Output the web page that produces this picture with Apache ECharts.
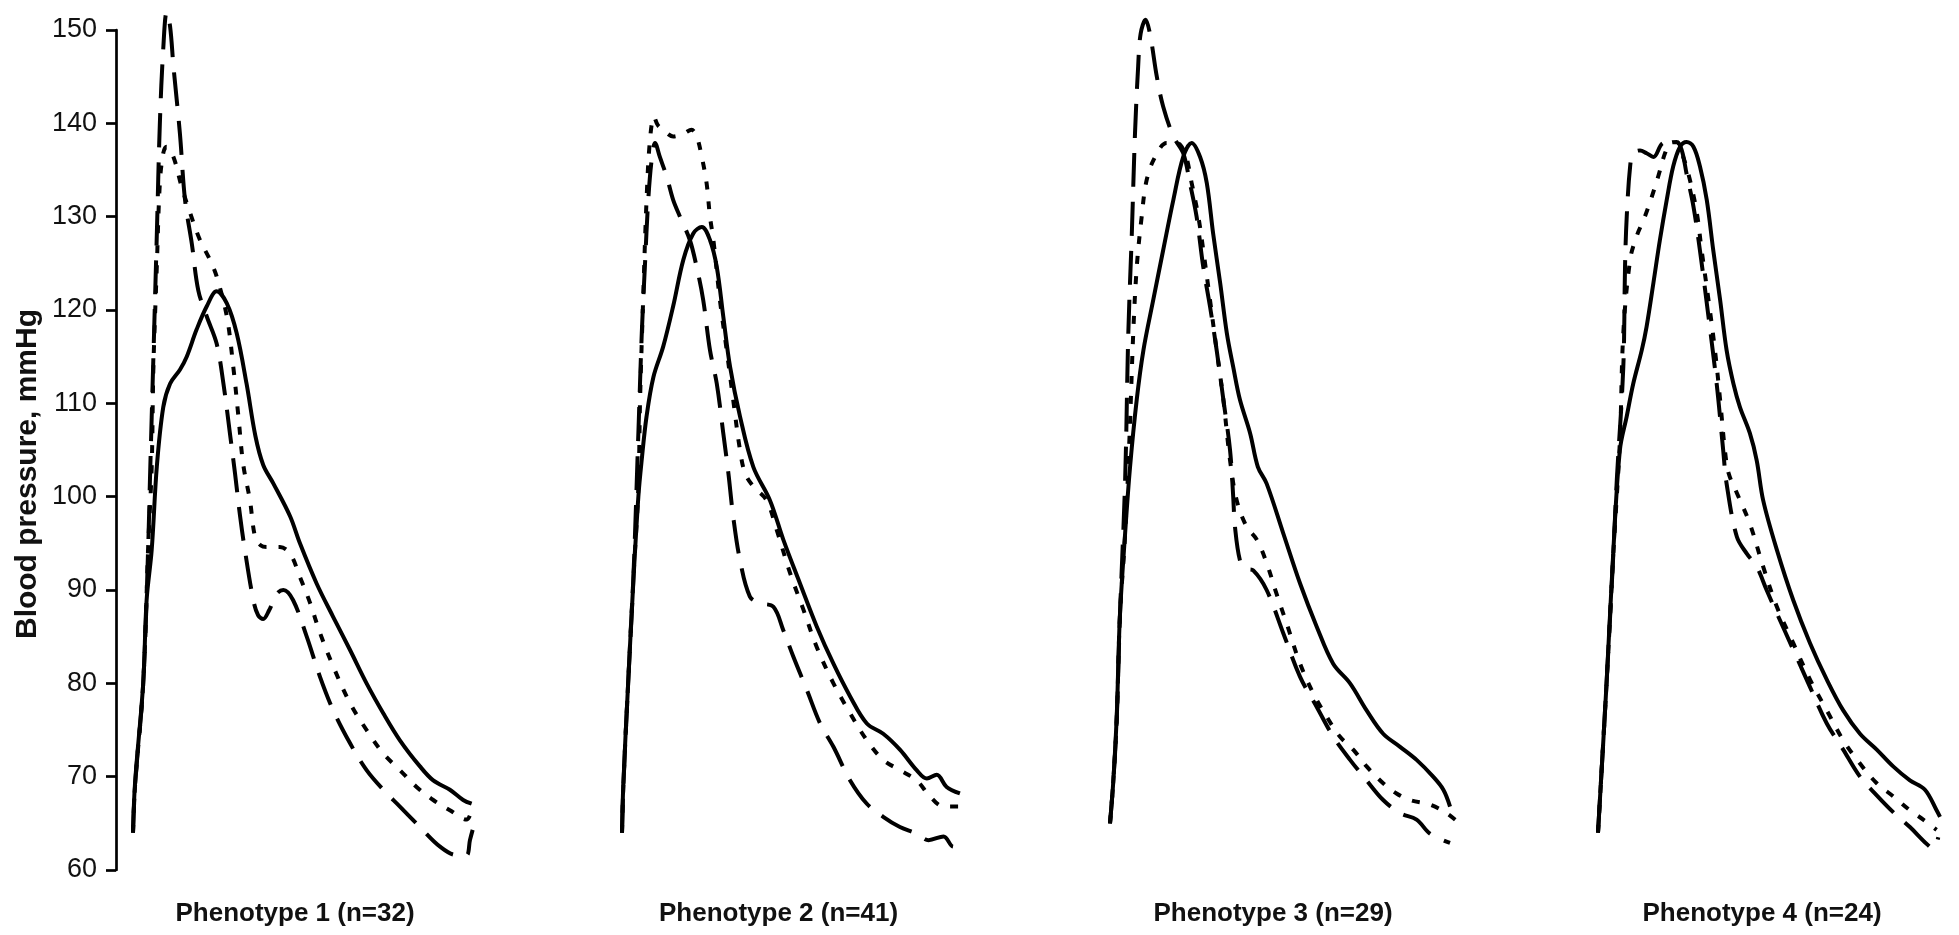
<!DOCTYPE html>
<html>
<head>
<meta charset="utf-8">
<title>Blood pressure waveforms by phenotype</title>
<script src="https://cdn.jsdelivr.net/npm/echarts@6/dist/echarts.min.js"></script>
<style>
  html, body { margin: 0; padding: 0; background: #ffffff; }
  #chart { width: 1959px; height: 935px; }
</style>
</head>
<body>
<div id="chart"></div>
<script>
// Ensemble-averaged pressure waveforms, time as % of the cardiac cycle.
// Each phenotype has three curves: solid, short-dashed and long-dashed.

const phenotypeNames = ['Phenotype 1 (n=32)', 'Phenotype 2 (n=41)', 'Phenotype 3 (n=29)', 'Phenotype 4 (n=24)'];
const yTicks = { min: 60, max: 150, step: 10 };

// Phenotype 1
const p1Solid = [[0,64],[0.6,69.3],[3,80],[4,88.9],[5.5,94.3],[7,103.2],[8.9,109.6],[10.9,112.1],[13.8,113.6],[15.8,115],[18.7,117.9],[21.7,120.4],[24.6,122],[27.6,120.7],[30.5,117.5],[33.4,112.1],[36,106.5],[38.3,103.4],[41.3,101.4],[46.2,97.9],[49.1,95],[54,90.7],[58.9,87.1],[63.8,83.6],[68.7,80],[73.6,76.8],[78.5,73.9],[84.4,71.1],[88.3,69.6],[93.2,68.6],[97.1,67.5],[99.6,67.1]];
const p1Dotted = [[0,64],[0.6,69],[3,80],[4.5,95],[5.5,103.2],[6,113.9],[7,124.6],[7.9,133.6],[8.9,136.8],[9.9,137.5],[11.9,136.4],[14.3,133.2],[16.8,130.4],[19.7,127.5],[22.6,125.4],[24.6,123.6],[27.6,119.3],[29.5,113.9],[31,108.6],[32.4,103.5],[34.4,99.6],[35.9,95.7],[37.5,94.8],[39.3,94.6],[43.2,94.6],[46.2,93.9],[49.1,91.4],[52.1,88.6],[55,85.4],[58.9,81.8],[63.8,77.9],[68.7,75],[73.6,72.5],[78.5,70.7],[83.4,68.9],[88.3,67.5],[93.2,66.4],[98.1,65.4],[99.6,66.4]];
const p1Dashed = [[0,64],[0.6,69],[3,80],[4.5,95],[5,102],[6,115],[7,128],[7.9,140],[8.9,148],[9.9,151.9],[10.9,150.4],[11.9,146.1],[13.8,138.9],[15.3,131.8],[17.3,127.1],[19.2,122.1],[21.7,119.3],[24.6,116.4],[26.6,112.1],[28.5,106.8],[30,102.5],[31.5,97.9],[32.9,94.3],[35.4,88.9],[36.8,87.3],[38.3,86.9],[40,87.8],[42.3,89.6],[44.2,90],[47.1,88.9],[51.1,85],[55,80.7],[58.9,77.1],[63.8,73.6],[68.7,70.7],[73.6,68.6],[78.5,66.8],[84.4,64.6],[90.3,62.5],[95.2,61.6],[98.1,61.6],[99.1,63.2],[99.9,64.3]];

// Phenotype 2
const p2Solid = [[0,64],[0.4,69.3],[1.8,80],[3.3,90.7],[4.8,100],[5.8,104],[7.2,108.6],[9.2,112.8],[12.1,116.1],[15,120.4],[18,125.4],[20.9,128.2],[23.4,128.9],[25.8,127.5],[27.8,124.6],[29.7,119.3],[31.7,113.9],[34.6,108.6],[38.5,103.2],[43.4,99.6],[47.3,95.4],[52.2,90.7],[57.1,86.1],[62,82.1],[66.9,78.6],[71.8,75.7],[76.6,74.6],[81.5,72.9],[86.4,70.7],[89.4,69.8],[92.3,70.2],[95.2,68.9],[99.1,68.2]];
const p2Dotted = [[0,64],[0.4,69],[1.8,80],[3.3,91],[4.8,101],[5.3,110.4],[6.2,121.1],[7.2,131.8],[8.2,138.2],[9.4,140.7],[10.5,139.8],[12.1,139.3],[15,138.6],[18,138.9],[20.4,139.3],[21.9,138.6],[23.4,136.4],[24.8,133.6],[25.8,130],[26.8,127.5],[28.7,121.1],[30.7,115.7],[32.6,110.4],[34.6,105],[36.1,102.5],[38.5,101.1],[42.4,99.6],[45.4,96.4],[49.3,91.8],[53.2,87.9],[57.1,83.9],[62,80],[66.9,76.8],[71.8,73.9],[76.6,71.8],[81.5,70.7],[86.4,69.6],[90.3,67.9],[94.3,66.8],[99.1,66.8]];
const p2Dashed = [[0,64],[0.4,69],[1.8,80],[3.3,91],[4.8,106.8],[5.8,117.5],[6.7,124.6],[7.7,131.8],[8.7,136.1],[9.7,137.9],[11.1,136.4],[13.1,134.3],[15,131.8],[17,130],[19.9,127.5],[21.9,124.6],[23.8,121.1],[25.8,115.7],[27.8,112.1],[29.7,106.8],[31.2,102.5],[32.6,97.9],[34.6,93.2],[37.5,89.3],[40.5,88.6],[44.4,88.2],[47.3,85.7],[50.2,82.9],[54.2,79.3],[58.1,75.7],[62,73.2],[66.9,69.6],[71.8,67.1],[76.6,65.7],[81.5,64.6],[86.4,63.9],[89.9,63.2],[94.3,63.6],[97.2,62.5],[99.6,62.7]];

// Phenotype 3
const p3Solid = [[0,65],[0.9,69.3],[1.9,76.4],[2.8,87.1],[4.3,96.1],[5.7,103.2],[7.6,110.4],[9.5,115.7],[12.3,121.1],[15.1,126.4],[18,131.8],[20.8,136.4],[23.2,137.9],[25.6,136.4],[27.5,133.6],[29.3,128.2],[31.3,122.9],[33.2,117.5],[35,113.9],[36.9,110.4],[39.8,106.8],[42,103.2],[44.5,101.4],[49.2,96.1],[54,90.7],[58.7,86.1],[63.4,82.1],[68.2,80],[72.9,77.1],[77.6,74.6],[82.4,73.2],[87.1,71.8],[91.8,70],[94.7,68.6],[96.6,66.8]];
const p3Dotted = [[0,65],[0.9,69.3],[1.9,76],[2.8,87],[4.3,96],[5.5,106],[6.6,117.5],[7.6,124.6],[9,130],[10.4,133.9],[12.8,136.4],[16.1,137.9],[18.9,137.9],[21.3,136.8],[23.2,133.6],[25.1,130],[26.5,126.4],[28.4,121.1],[30.3,115.7],[32.2,110.4],[34.1,103.9],[36,99.6],[38.8,96.8],[41.7,95.4],[44.5,92.9],[47.3,89.6],[50.2,86.4],[54,82.1],[57.8,78.9],[61.6,76.4],[65.3,74.3],[69.1,72.9],[72.9,71.1],[77.6,69.3],[81.4,68.2],[85.2,67.5],[90.9,67],[95.6,66.1],[99.9,64.8]];
const p3Dashed = [[0,65],[0.9,69.3],[1.9,76],[2.8,87],[4.3,101.8],[5.2,117.5],[6.2,128.2],[7.1,138.9],[8,146.1],[8.7,149.6],[10.1,151.1],[11.4,149.5],[13.3,145],[15.1,141.8],[18,138.6],[20.8,136.8],[22.7,133.6],[24.6,130],[26.5,124.6],[28.4,120.4],[30.3,115.7],[32.2,110.4],[34.1,105],[35,100],[35.5,96.8],[36.9,93.2],[38.5,92.3],[40.7,92.1],[44.5,90],[49.2,85.4],[54,80.7],[58.7,77.5],[63.4,74.3],[68.2,71.8],[72.9,69.6],[77.6,67.5],[82.4,66.1],[87.1,65.4],[90.9,63.9],[96.6,62.9]];

// Phenotype 4
const p4Solid = [[0,64],[2.5,80],[4.5,94.3],[6.4,105],[8.4,108.6],[10.3,112.1],[12.8,115.7],[14.2,118.2],[16.2,122.9],[18.1,127.5],[20.1,131.8],[22,135.4],[24,137.5],[25.9,138],[27.9,137.5],[29.8,135.4],[31.8,131.8],[33.7,126.4],[35.7,121.1],[37.6,115.7],[39.6,112.1],[41.5,109.6],[44.4,106.8],[46.4,103.9],[48.3,99.6],[52.3,94.3],[57.1,88.9],[62,84.3],[66.9,80.4],[71.7,77.1],[76.6,74.6],[81.5,72.9],[86.3,71.1],[91.2,69.6],[95.6,68.6],[99,66.4],[100,65.7]];
const p4Dotted = [[0,64],[2.5,80],[4.5,94],[6.4,106],[7.4,117.5],[9.4,125.4],[11.3,127.9],[13.7,130],[15.7,132.1],[17.6,134.3],[19.6,136.8],[21.1,137.9],[23,138],[24.9,136.4],[26.9,133.9],[28.9,130.4],[30.3,126.4],[32.3,121.1],[34.2,115.7],[35.7,110.4],[37.1,105],[38.2,102.5],[40.6,100.4],[44.4,97.1],[48.3,92.5],[52.3,88.2],[57.1,84.3],[62,80.4],[66.9,77.1],[71.7,73.9],[76.6,71.4],[81.5,69.3],[86.3,67.9],[91.2,66.4],[95.1,65.4],[99,64.3]];
const p4Dashed = [[0,64],[2.5,80],[4.5,94],[5.5,101.8],[7.4,113.9],[7.9,124.6],[8.4,130],[9.4,135.4],[10.3,136.8],[12.3,137.1],[14.2,136.8],[16.2,136.4],[19.1,137.9],[23,138],[24.5,137.1],[25.9,134.6],[27.9,131.1],[29.8,126.4],[32.3,119.3],[34.7,112.1],[36.6,105],[37.6,101.4],[40.6,95.7],[43.5,93.9],[46.4,92.5],[49.3,90],[52.3,87.5],[57.1,83.6],[62,79.6],[66.9,75.7],[71.7,72.9],[76.6,70],[81.5,68],[86.3,66.2],[91.2,64.6],[96.1,62.8],[98,62.3],[99.5,63.5]];

const panels = [
  { name: phenotypeNames[0], solid: p1Solid, dotted: p1Dotted, dashed: p1Dashed },
  { name: phenotypeNames[1], solid: p2Solid, dotted: p2Dotted, dashed: p2Dashed },
  { name: phenotypeNames[2], solid: p3Solid, dotted: p3Dotted, dashed: p3Dashed },
  { name: phenotypeNames[3], solid: p4Solid, dotted: p4Dotted, dashed: p4Dashed }
];

// Panel placement (px) and label nudges
const gridBoxes = [
  { left: 133, width: 340, labelShift: 8 },
  { left: 622, width: 341, labelShift: 14 },
  { left: 1110, width: 352, labelShift: 13 },
  { left: 1598, width: 342, labelShift: 7 }
];

const lineStyles = {
  solid: 'solid',
  dotted: [8, 12],
  dashed: [34, 15]
};

const FONT = '"Liberation Sans", Arial, Helvetica, sans-serif';

const grids = [], xAxes = [], yAxes = [], series = [];

panels.forEach(function (p, i) {
  const g = gridBoxes[i];
  grids.push({ left: g.left, width: g.width, top: 30, bottom: 65, show: false, containLabel: false });

  xAxes.push({
    gridIndex: i, type: 'value', min: 0, max: 100,
    axisLine: { show: false, onZero: false }, axisTick: { show: false }, axisLabel: { show: false }, splitLine: { show: false },
    name: p.name, nameLocation: 'middle', nameGap: 31,
    nameTextStyle: { fontFamily: FONT, fontWeight: 'bold', fontSize: 26, color: '#111', padding: [0, g.labelShift * 2, 0, 0] }
  });

  if (i === 0) {
    yAxes.push({
      gridIndex: i, type: 'value', min: yTicks.min, max: yTicks.max, interval: yTicks.step,
      offset: 17,
      axisLine: { show: true, onZero: false, lineStyle: { color: '#000', width: 2.7 } },
      axisTick: { show: true, length: 10, lineStyle: { color: '#000', width: 2.7 } },
      axisLabel: { show: true, margin: 19, fontFamily: FONT, fontSize: 27, color: '#111' },
      splitLine: { show: false },
      name: 'Blood pressure, mmHg', nameLocation: 'middle', nameRotate: 90, nameGap: 73,
      nameTextStyle: { fontFamily: FONT, fontWeight: 'bold', fontSize: 30, color: '#111', padding: [0, 48, 0, 0] }
    });
  } else {
    yAxes.push({ gridIndex: i, type: 'value', min: yTicks.min, max: yTicks.max, show: false, splitLine: { show: false } });
  }

  ['solid', 'dotted', 'dashed'].forEach(function (kind) {
    series.push({
      type: 'line', xAxisIndex: i, yAxisIndex: i,
      data: p[kind], showSymbol: false, symbol: 'none', smooth: 0.35, clip: false,
      lineStyle: { color: '#000', width: 4, type: lineStyles[kind], cap: 'butt', join: 'round' },
      emphasis: { disabled: true }, silent: true
    });
  });
});

const chart = echarts.init(document.getElementById('chart'), null, { renderer: 'canvas' });
chart.setOption({
  backgroundColor: '#ffffff',
  animation: false,
  grid: grids, xAxis: xAxes, yAxis: yAxes, series: series
});
</script>
</body>
</html>
